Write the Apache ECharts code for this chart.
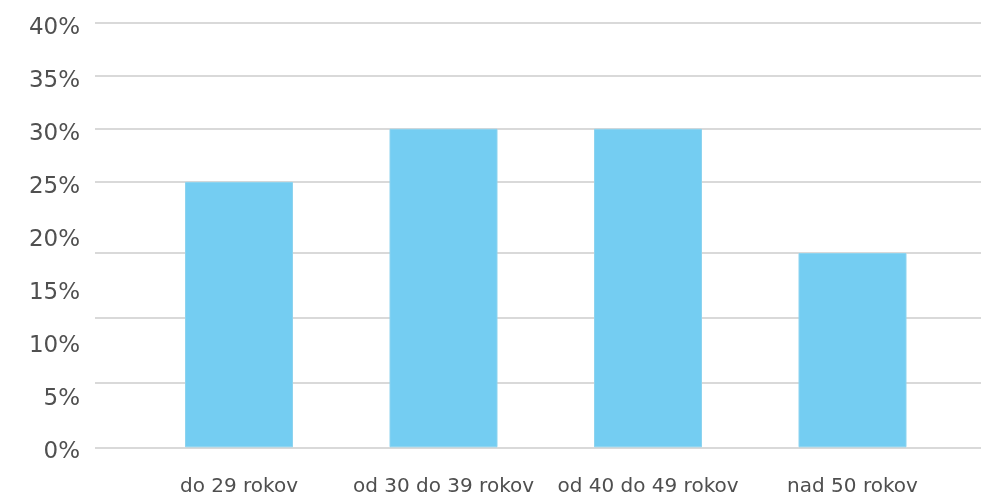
<!DOCTYPE html>
<html>
<head>
<meta charset="utf-8">
<script src="https://cdn.jsdelivr.net/npm/echarts/dist/echarts.min.js"></script>
<style>
html,body{margin:0;padding:0;background:#fff;}
#chart{width:981px;height:499px;}
</style>
</head>
<body>
<div id="chart"></div>
<script>
// Data
var categories = ['do 29 rokov', 'od 30 do 39 rokov', 'od 40 do 49 rokov', 'nad 50 rokov'];
var values = [25, 30, 30, 18.3];
var tickLabels = [0, 5, 10, 15, 20, 25, 30, 35, 40];
var gridLineValues = [0, 6.1, 12.25, 18.3, 25, 30, 35, 40];

var chart = echarts.init(document.getElementById('chart'));
var option = {
  animation: false,
  backgroundColor: '#ffffff',
  grid: [
    { left: 95, right: 0, top: 22.7, bottom: 51.7 },
    { left: 136.75, right: 26.25, top: 22.7, bottom: 51.7 }
  ],
  xAxis: [
    { type: 'value', gridIndex: 0, min: 0, max: 1, show: false },
    {
      type: 'category', gridIndex: 1, data: categories,
      axisLine: { show: false }, axisTick: { show: false },
      axisLabel: { interval: 0, color: '#4f4f4f', fontFamily: 'DejaVu Sans', fontSize: 20, margin: 29 }
    }
  ],
  yAxis: [
    {
      type: 'value', gridIndex: 0, min: 0, max: 40, interval: 5,
      axisLine: { show: false },
      axisTick: { show: false, customValues: gridLineValues },
      axisLabel: {
        customValues: tickLabels,
        formatter: function (v) { return '{a|' + v + '%}'; },
        margin: 15,
        rich: {
          a: { color: '#505050', fontFamily: 'DejaVu Sans', fontSize: 23, padding: [10, 0, 0, 0] }
        }
      },
      splitLine: { show: true, lineStyle: { color: '#d9d9d9', width: 2 } }
    },
    { type: 'value', gridIndex: 1, min: 0, max: 40, show: false, splitLine: { show: false } }
  ],
  series: [
    {
      type: 'bar', xAxisIndex: 1, yAxisIndex: 1,
      data: values, barWidth: 108,
      itemStyle: { color: '#74cdf2', borderColor: '#8cd3ef', borderWidth: 1 }
    }
  ]
};
chart.setOption(option);
</script>
</body>
</html>
